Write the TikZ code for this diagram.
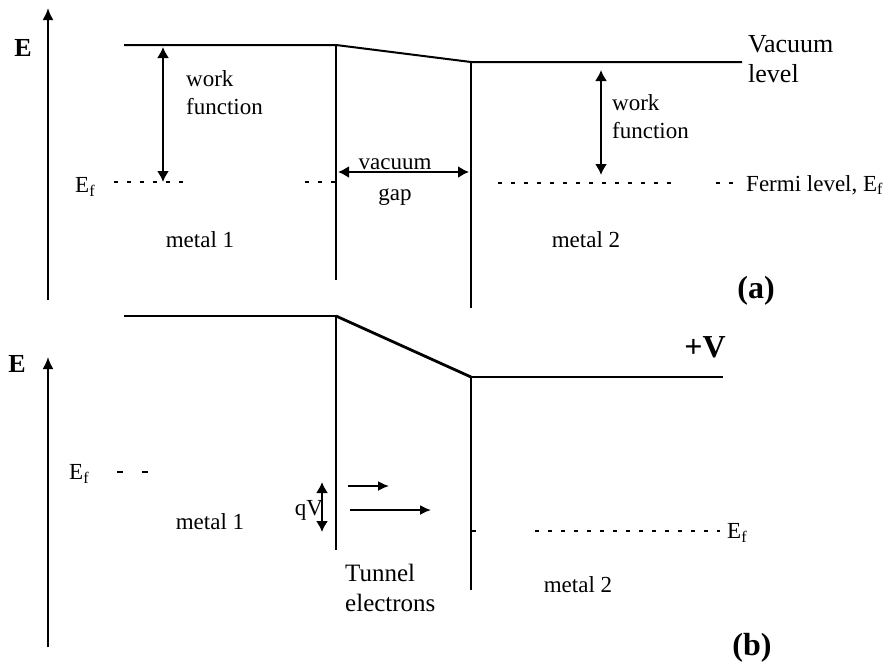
\documentclass[tikz,border=0pt]{standalone}
\usepackage{fontspec}
\setmainfont{Liberation Serif}
\usetikzlibrary{arrows.meta}
\begin{document}
\begin{tikzpicture}[x=1pt,y=-1pt,
  band/.style={line width=2pt},
  steep/.style={line width=2.8pt},
  dashline/.style={line width=1.5pt, dash pattern=on 4pt off 9pt},
  dbl/.style={line width=1.8pt, {Latex[length=11pt,width=12pt]}-{Latex[length=11pt,width=12pt]}},
  onearrow/.style={line width=1.8pt, -{Latex[length=11pt,width=10pt]}},
  axis/.style={line width=2pt, -{Latex[length=12pt,width=11pt]}},
  lbl/.style={font=\fontsize{23}{28}\selectfont, inner sep=0pt},
  biglbl/.style={font=\fontsize{26}{30}\selectfont, inner sep=0pt},
  boldlbl/.style={font=\fontsize{26}{30}\selectfont\bfseries, inner sep=0pt},
  taglbl/.style={font=\fontsize{32}{36}\selectfont\bfseries, inner sep=0pt}
]
\useasboundingbox (0,0) rectangle (890,667);

% ---------- panel (a) ----------
\coordinate (aAx0) at (48,300);
\coordinate (aAx1) at (48,8);
\coordinate (aV1) at (124,45);
\coordinate (aV2) at (336,45);
\coordinate (aV3) at (471,62);
\coordinate (aV4) at (742,62);
\coordinate (aL1) at (336,280);
\coordinate (aR1) at (471,308);
\coordinate (aW1t) at (163,47);
\coordinate (aW1b) at (163,182);
\coordinate (aGl) at (338,172);
\coordinate (aGr) at (469,172);
\coordinate (aW2t) at (601,70);
\coordinate (aW2b) at (601,175);
\coordinate (aD1a) at (114,182);
\coordinate (aD1b) at (184,182);
\coordinate (aD2a) at (305,182);
\coordinate (aD2b) at (336,182);
\coordinate (aD3a) at (498,183);
\coordinate (aD3b) at (672,183);
\coordinate (aD4a) at (716,183);
\coordinate (aD4b) at (738,183);

\draw[axis] (aAx0) -- (aAx1);
\draw[band] (aV1) -- (aV2) -- (aV3) -- (aV4);
\draw[band] (aV2) -- (aL1);
\draw[band] (aV3) -- (aR1);
\draw[dbl] (aW1t) -- (aW1b);
\draw[dbl] (aGl) -- (aGr);
\draw[dbl] (aW2t) -- (aW2b);
\draw[dashline] (aD1a) -- (aD1b);
\draw[dashline] (aD2a) -- (aD2b);
\draw[dashline] (aD3a) -- (aD3b);
\draw[dashline] (aD4a) -- (aD4b);

\node[boldlbl] (aE) at (23,48) {E};
\node[lbl, anchor=west, align=left] (aWF1) at (186,93) {work\\function};
\node[lbl, align=center, font=\fontsize{23}{31}\selectfont] (aGap) at (395,182) {vacuum\\gap};
\node[lbl, anchor=west, align=left] (aWF2) at (612,117) {work\\function};
\node[biglbl, anchor=west, align=left] (aVac) at (748,59) {Vacuum\\level};
\node[lbl, anchor=west] (aEf1) at (75,187) {E\textsubscript{f}};
\node[lbl, anchor=west] (aFermi) at (746,185) {Fermi level, E\textsubscript{f}};
\node[lbl] (aM1) at (200,240) {metal 1};
\node[lbl] (aM2) at (586,240) {metal 2};
\node[taglbl] (aTag) at (756,291) {(a)};

% ---------- panel (b) ----------
\coordinate (bAx0) at (48,647);
\coordinate (bAx1) at (48,357);
\coordinate (bV1) at (124,316);
\coordinate (bV2) at (336,316);
\coordinate (bV3) at (471,377);
\coordinate (bV4) at (723,377);
\coordinate (bL1) at (336,550);
\coordinate (bR1) at (471,590);
\coordinate (bQt) at (322,482);
\coordinate (bQb) at (322,532);
\coordinate (bA1a) at (348,486);
\coordinate (bA1b) at (389,486);
\coordinate (bA2a) at (350,510);
\coordinate (bA2b) at (431,510);
\coordinate (bE1a) at (117,472);
\coordinate (bE1b) at (123,472);
\coordinate (bE2a) at (142,472);
\coordinate (bE2b) at (148,472);
\coordinate (bD1a) at (535,531);
\coordinate (bD1b) at (720,531);
\coordinate (bTa) at (471,531);
\coordinate (bTb) at (476,531);

\draw[axis] (bAx0) -- (bAx1);
\draw[band] (bV1) -- (bV2);
\draw[steep] (bV2) -- (bV3);
\draw[band] (bV3) -- (bV4);
\draw[band] (bV2) -- (bL1);
\draw[band] (bV3) -- (bR1);
\draw[dbl] (bQt) -- (bQb);
\draw[onearrow] (bA1a) -- (bA1b);
\draw[onearrow] (bA2a) -- (bA2b);
\draw[line width=1.5pt] (bE1a) -- (bE1b);
\draw[line width=1.5pt] (bE2a) -- (bE2b);
\draw[dashline] (bD1a) -- (bD1b);
\draw[line width=1.5pt] (bTa) -- (bTb);

\node[boldlbl] (bE) at (17,364) {E};
\node[taglbl] (bPlusV) at (705,347) {+V};
\node[lbl, anchor=west] (bEf1) at (69,474) {E\textsubscript{f}};
\node[lbl] (bM1) at (210,522) {metal 1};
\node[lbl] (bQV) at (309,510) {qV};
\node[lbl, anchor=west, align=left, font=\fontsize{25}{30}\selectfont] (bTun) at (345,588) {Tunnel\\electrons};
\node[lbl, anchor=west] (bEf2) at (727,533) {E\textsubscript{f}};
\node[lbl] (bM2) at (578,585) {metal 2};
\node[taglbl] (bTag) at (752,648) {(b)};
\end{tikzpicture}
\end{document}
